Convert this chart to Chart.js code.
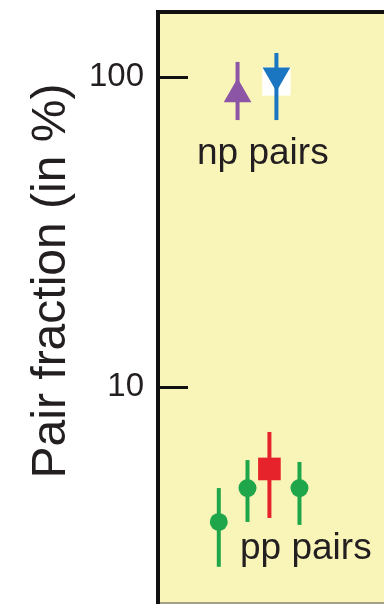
<!DOCTYPE html>
<html><head><meta charset="utf-8">
<script src="https://cdn.jsdelivr.net/npm/chart.js@4"></script>
<style>html,body{margin:0;padding:0;background:#fff;overflow:hidden}</style>
</head><body>
<canvas id="c" width="384" height="605"></canvas>
<script>
// ---- data ----
const yTicks = [10, 100];
const yTickLabels = ["10", "100"];
const yTitle = "Pair fraction (in %)";
const groupLabels = ["np pairs", "pp pairs"];

// pp pairs (three green circles + one red square)
const ppX    = [2.69, 3.96, 4.93, 6.26];
const ppVal  = [3.67, 4.72, 5.44, 4.72];
const ppLow  = [2.63, 3.67, 3.78, 3.59];
const ppHigh = [4.72, 5.81, 7.16, 5.73];
const ppKind = ["g", "g", "r", "g"];

// np pairs (purple up-triangle, blue down-triangle)
const npX    = [3.52, 5.24];
const npVal  = [88, 101];
const npLow  = [72.6, 72.6];
const npHigh = [111.8, 119.5];
const npKind = ["p", "b"];
const npBoxVal = [96.7]; // white box behind the blue marker

// ---- styles ----
const COL = {g: "#1fa64a", r: "#e6222a", p: "#8d55a6", b: "#1b76c2"};
const STYLE = {g: "circle", r: "rect", p: "triangle", b: "triangle"};
const RAD = {g: 9, r: 16, p: 16, b: 16};
const ROT = {g: 0, r: 0, p: 0, b: 180};
const BG = "#f9f4b8";

const datasets = [];
function addBars(xs, lo, hi, kinds) {
  xs.forEach((x, i) => {
    datasets.push({
      type: "line", data: [{x: x, y: lo[i]}, {x: x, y: hi[i]}],
      borderColor: COL[kinds[i]], borderWidth: 4, pointRadius: 0,
      fill: false, order: 2, clip: false
    });
  });
}
function addMarkers(xs, vals, kinds) {
  datasets.push({
    type: "scatter",
    data: xs.map((x, i) => ({x: x, y: vals[i]})),
    pointStyle: kinds.map(k => STYLE[k]),
    pointRadius: kinds.map(k => RAD[k]),
    pointRotation: kinds.map(k => ROT[k]),
    backgroundColor: kinds.map(k => COL[k]),
    borderColor: kinds.map(k => COL[k]),
    borderWidth: 0, order: 0, clip: false
  });
}
// white box
datasets.push({
  type: "scatter", data: [{x: npX[1], y: npBoxVal[0]}],
  pointStyle: "rect", pointRadius: 20, backgroundColor: "#ffffff",
  borderWidth: 0, order: 3
});
addBars(ppX, ppLow, ppHigh, ppKind);
addBars(npX, npLow, npHigh, npKind);
addMarkers(ppX, ppVal, ppKind);
addMarkers(npX, npVal, npKind);

const deco = {
  id: "deco",
  beforeDraw(chart) {
    const {ctx, chartArea: a} = chart;
    ctx.save();
    ctx.fillStyle = BG;
    ctx.fillRect(a.left, a.top, a.right - a.left, a.bottom - a.top);
    ctx.restore();
  },
  afterDraw(chart) {
    const {ctx, chartArea: a, scales} = chart;
    ctx.save();
    // inward tick marks
    ctx.strokeStyle = "#111"; ctx.lineWidth = 3;
    yTicks.forEach(v => {
      const y = Math.round(scales.y.getPixelForValue(v)) + 0.5;
      ctx.beginPath(); ctx.moveTo(a.left, y); ctx.lineTo(a.left + 30, y); ctx.stroke();
    });
    // axis title
    ctx.fillStyle = "#231f20";
    ctx.font = "48px 'Liberation Sans', Arial, sans-serif";
    ctx.textAlign = "center"; ctx.textBaseline = "middle";
    ctx.translate(52, 281); ctx.rotate(-Math.PI / 2);
    ctx.fillText(yTitle, 0, 0);
    ctx.restore();
    // group labels
    ctx.save();
    ctx.fillStyle = "#231f20";
    ctx.font = "37px 'Liberation Sans', Arial, sans-serif";
    ctx.textAlign = "left"; ctx.textBaseline = "alphabetic";
    ctx.fillText(groupLabels[0], 197, 164);
    ctx.fillText(groupLabels[1], 240, 559);
    ctx.restore();
  }
};

new Chart(document.getElementById("c"), {
  data: {datasets},
  plugins: [deco],
  options: {
    responsive: false, animation: false, devicePixelRatio: 1,
    layout: {autoPadding: false, padding: {top: 12, left: 0, right: 0, bottom: 2}},
    plugins: {legend: {display: false}, tooltip: {enabled: false}},
    scales: {
      x: {
        type: "linear", position: "top", min: 0, max: 10,
        ticks: {display: false}, grid: {display: false, drawTicks: false},
        border: {display: true, color: "#111", width: 4}
      },
      x2: {
        type: "linear", position: "bottom", min: 0, max: 10,
        ticks: {display: false}, grid: {display: false, drawTicks: false},
        border: {display: true, color: "#a3a08a", width: 2}
      },
      y: {
        type: "logarithmic", position: "left", min: 2.01, max: 162,
        afterBuildTicks: s => { s.ticks = yTicks.map(v => ({value: v})); },
        afterFit: s => { s.width = 158; s.paddingTop = 0; s.paddingBottom = 0; },
        ticks: {
          callback: v => { const i = yTicks.indexOf(v); return i >= 0 ? yTickLabels[i] : ""; },
          font: {family: "'Liberation Sans', Arial, sans-serif", size: 33},
          color: "#231f20", padding: 14, autoSkip: false
        },
        grid: {display: false, drawTicks: false},
        border: {display: true, color: "#111", width: 4}
      }
    }
  }
});
</script>
</body></html>
